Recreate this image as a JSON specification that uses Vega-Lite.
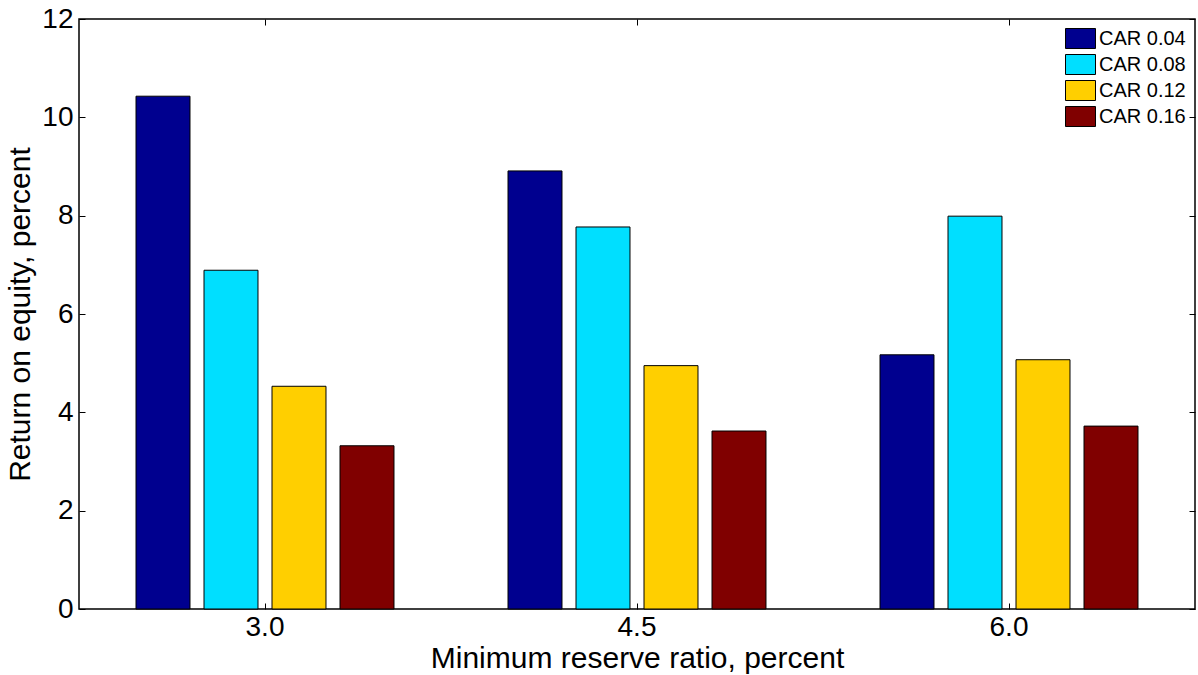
{
  "$schema": "https://vega.github.io/schema/vega-lite/v6.json",
  "width": 1116,
  "height": 590,
  "autosize": {"type": "none"},
  "padding": {"left": 79, "top": 19, "right": 3, "bottom": 66},
  "background": "white",
  "config": {
    "view": {"stroke": "black", "strokeWidth": 1.5},
    "font": "Liberation Sans",
    "axis": {"grid": false, "domain": false, "tickColor": "black", "tickSize": -6, "tickWidth": 1, "labelColor": "black", "titleColor": "black", "labelFont": "Liberation Sans", "titleFont": "Liberation Sans", "labelFontSize": 28, "titleFontSize": 30, "titleFontWeight": "normal"}
  },
  "data": {
    "values": [
      {"mrr": "3.0", "car": "CAR 0.04", "roe": 10.43},
      {"mrr": "3.0", "car": "CAR 0.08", "roe": 6.89},
      {"mrr": "3.0", "car": "CAR 0.12", "roe": 4.53},
      {"mrr": "3.0", "car": "CAR 0.16", "roe": 3.32},
      {"mrr": "4.5", "car": "CAR 0.04", "roe": 8.91},
      {"mrr": "4.5", "car": "CAR 0.08", "roe": 7.77},
      {"mrr": "4.5", "car": "CAR 0.12", "roe": 4.95},
      {"mrr": "4.5", "car": "CAR 0.16", "roe": 3.62},
      {"mrr": "6.0", "car": "CAR 0.04", "roe": 5.17},
      {"mrr": "6.0", "car": "CAR 0.08", "roe": 7.99},
      {"mrr": "6.0", "car": "CAR 0.12", "roe": 5.07},
      {"mrr": "6.0", "car": "CAR 0.16", "roe": 3.72}
    ]
  },
  "layer": [
    {
      "mark": {"type": "bar", "stroke": "black", "strokeWidth": 1},
      "encoding": {
        "x": {
          "field": "mrr", "type": "nominal", "sort": null,
          "scale": {"paddingInner": 0.2688, "paddingOuter": 0.1344},
          "axis": {"orient": "bottom", "labelAngle": 0, "labelPadding": 10, "title": "Minimum reserve ratio, percent", "titlePadding": 2}
        },
        "xOffset": {
          "field": "car", "type": "nominal", "sort": null,
          "scale": {"paddingInner": 0.206, "paddingOuter": 0.103}
        },
        "y": {
          "field": "roe", "type": "quantitative",
          "scale": {"domain": [0, 12], "nice": false, "zero": true},
          "axis": {"orient": "left", "values": [0, 2, 4, 6, 8, 10, 12], "labelPadding": 12, "title": "Return on equity, percent", "titlePadding": 6}
        },
        "color": {
          "field": "car", "type": "nominal", "sort": null,
          "scale": {"domain": ["CAR 0.04", "CAR 0.08", "CAR 0.12", "CAR 0.16"], "range": ["#00008F", "#00DFFF", "#FFCF00", "#800000"]},
          "legend": {
            "orient": "none", "legendX": 991, "legendY": 9, "title": null, "padding": 0,
            "symbolType": "M-1.5,-1H1.5V1H-1.5Z", "symbolSize": 400, "symbolStrokeColor": "black", "symbolStrokeWidth": 1, "symbolOpacity": 1,
            "labelFont": "Liberation Sans", "labelFontSize": 20, "labelColor": "black", "labelOffset": 8, "rowPadding": 1
          }
        }
      }
    },
    {
      "mark": {"type": "bar", "opacity": 0},
      "encoding": {
        "x": {"field": "mrr", "type": "nominal", "sort": null, "axis": {"orient": "top", "labels": false, "title": null}},
        "y": {"field": "roe", "type": "quantitative", "axis": {"orient": "right", "values": [0, 2, 4, 6, 8, 10, 12], "labels": false, "title": null}}
      }
    }
  ],
  "resolve": {"axis": {"x": "independent", "y": "independent"}}
}
